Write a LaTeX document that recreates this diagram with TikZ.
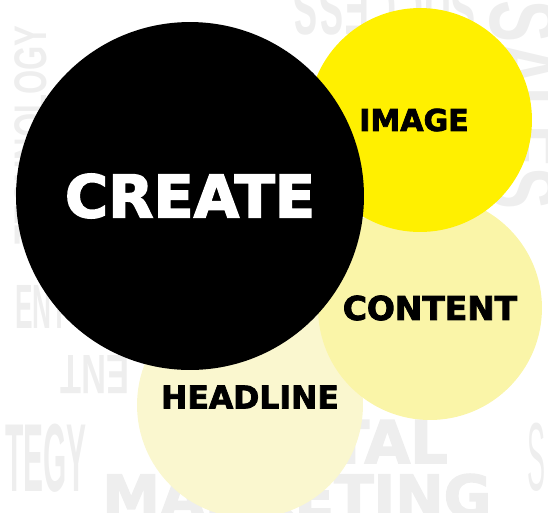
\documentclass[tikz,border=0pt]{standalone}
\usepackage{fontspec}
\usepackage{tikz}
\setmainfont{DejaVu Sans}[BoldFeatures={FakeBold=2.6}]
\newfontfamily\narrow{Liberation Sans}
\definecolor{sunny}{RGB}{255, 240, 0}
\definecolor{butter}{RGB}{250, 245, 168}
\definecolor{cream}{RGB}{250, 247, 207}
\definecolor{fog}{RGB}{238, 238, 238}

\begin{document}
\begin{tikzpicture}[x=0.02cm, y=-0.02cm,
  bubble/.style={circle, inner sep=0pt, fill=#1},
  word/.style={font=\bfseries\fontsize{#1}{#1}\selectfont},
  ghost/.style={text=fog, inner sep=0pt}
]
  \useasboundingbox (0, 0) rectangle (548, 512);
  \clip (0, 0) rectangle (548, 512);

  % faint words in the back
  \node[ghost, rotate=90] (tech) at (31, 135)
    {\narrow\bfseries\fontsize{26}{26}\selectfont\scalebox{0.68}[1]{TECHNOLOGY}};
  \node[ghost, anchor=base west] (ent) at (15, 328)
    {\narrow\bfseries\fontsize{35.6}{36}\selectfont\scalebox{0.42}[1]{ENT}};
  \node[ghost, anchor=base west, rotate=180] (tne) at (130, 355)
    {\narrow\bfseries\fontsize{31.6}{32}\selectfont\scalebox{0.62}[1]{ENT}};
  \node[ghost, anchor=base east] (tegy) at (87, 491)
    {\narrow\bfseries\fontsize{55}{55}\selectfont\scalebox{0.31}[1]{TEGY}};
  \node[ghost, anchor=base, rotate=180] (success) at (385, -18)
    {\narrow\bfseries\fontsize{43}{43}\selectfont\scalebox{0.5}[1]{SUCCESS}};
  \node[ghost, anchor=base west, rotate=-90] (sales) at (490, 0)
    {\narrow\bfseries\fontsize{55}{55}\selectfont\scalebox{0.65}[1]{SALES}};
  \node[ghost, anchor=base west] (ess) at (527, 490)
    {\narrow\fontsize{55}{55}\selectfont\scalebox{0.28}[1]{S}};
  \node[ghost, word=33.5, anchor=base east] (digital) at (448, 463) {DIGITAL};
  \node[ghost, word=33, anchor=base west] (marketing) at (102, 517) {MARKETING};

  % the four bubbles
  \node[bubble=cream, minimum size=4.52cm] (headline) at (250, 405) {};
  \node[word=17.9] (headlinetext) at (250, 397) {HEADLINE};
  \node[bubble=butter, minimum size=4.48cm, word=18.7] (content) at (430, 308) {CONTENT};
  \node[bubble=sunny, minimum size=4.48cm, word=17.1] (image) at (420, 120) {\hspace*{-0.24cm}IMAGE};
  \node[bubble=black, minimum size=6.96cm, word=33.5, text=white] (create) at (190, 196) {CREATE};

\end{tikzpicture}
\end{document}
